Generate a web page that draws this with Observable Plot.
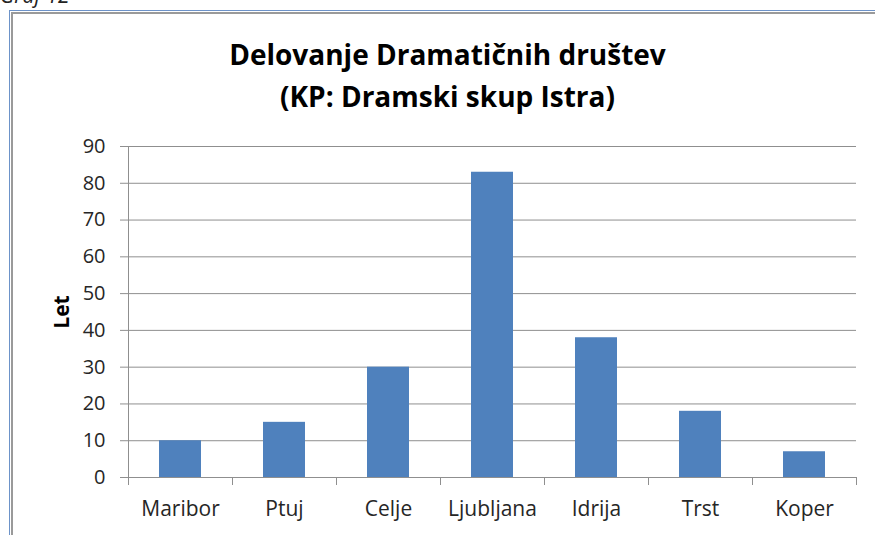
<!DOCTYPE html>
<html>
<head>
<meta charset="utf-8">
<script src="https://cdn.jsdelivr.net/npm/d3@7"></script>
<script src="https://cdn.jsdelivr.net/npm/@observablehq/plot@0.6"></script>
<style>
  html, body { margin: 0; padding: 0; background: #fff; }
  #wrap { position: relative; width: 875px; height: 535px; overflow: hidden; font-family: "Open Sans", Lato, sans-serif; }
  #caption { position: absolute; left: 0px; top: -19px; font-size: 21px; font-style: italic; color: #222; }
  #frameOuter { position: absolute; left: 9px; top: 10px; width: 900px; height: 600px; border: 1px solid #6d93c9; }
  #frameInner { position: absolute; left: 11px; top: 12px; width: 900px; height: 600px; border: 2px solid #9a9a9a; }
  #title { position: absolute; left: 0; width: 895px; top: 33px; text-align: center; font-weight: bold; font-size: 28px; line-height: 42px; color: #000; }
  #chart { position: absolute; left: 0; top: 0; }
  #ylabel { position: absolute; left: 61px; top: 312px; transform: translate(-50%, -50%) rotate(-90deg); font-weight: bold; font-size: 21px; color: #000; }
</style>
</head>
<body>
<div id="wrap">
  <div id="caption">Graf 12</div>
  <div id="frameOuter"></div>
  <div id="frameInner"></div>
  <div id="chart"></div>
  <div id="title">Delovanje Dramatičnih društev<br>(KP: Dramski skup Istra)</div>
  <div id="ylabel">Let</div>
</div>
<script>
const categories = ["Maribor", "Ptuj", "Celje", "Ljubljana", "Idrija", "Trst", "Koper"];
const values = [10, 15, 30, 83, 38, 18, 7];
const yTicks = [0, 10, 20, 30, 40, 50, 60, 70, 80, 90];

const data = categories.map((c, i) => ({category: c, value: values[i]}));

const W = 875, H = 535;
const mL = 128, mR = 19, mT = 146, mB = 58;
const step = (W - mL - mR) / categories.length;

const plot = Plot.plot({
  width: W,
  height: H,
  marginLeft: mL,
  marginRight: mR,
  marginTop: mT,
  marginBottom: mB,
  style: {fontFamily: "'Open Sans', Lato, sans-serif", fontSize: "20px", color: "#222", background: "transparent"},
  x: {domain: categories, padding: 0, label: null},
  y: {domain: [0, 90], ticks: yTicks, label: null},
  marks: [
    Plot.gridY(yTicks.filter(d => d > 0), {stroke: "#8f8f8f", strokeOpacity: 1, strokeWidth: 1}),
    Plot.barY(data, {x: "category", y: "value", fill: "#4f81bd", insetLeft: 31, insetRight: 31}),
    Plot.frame({anchor: "left", stroke: "#8f8f8f", strokeOpacity: 1}),
    Plot.frame({anchor: "bottom", stroke: "#8f8f8f", strokeOpacity: 1}),
    Plot.axisY({ticks: yTicks, tickSize: 8, tickPadding: 15, stroke: "#8f8f8f", fill: "#262626", label: null, tickFormat: d => String(d)}),
    Plot.axisX({tickSize: 0, tickPadding: 24, fontSize: 21, fill: "#262626", label: null}),
    Plot.ruleX(categories, {x: d => d, dx: -step / 2, stroke: "#8f8f8f", insetTop: H - mT - mB, insetBottom: -8}),
    Plot.ruleX(categories.slice(-1), {x: d => d, dx: step / 2, stroke: "#8f8f8f", insetTop: H - mT - mB, insetBottom: -8})
  ]
});
document.getElementById("chart").appendChild(plot);
</script>
</body>
</html>
